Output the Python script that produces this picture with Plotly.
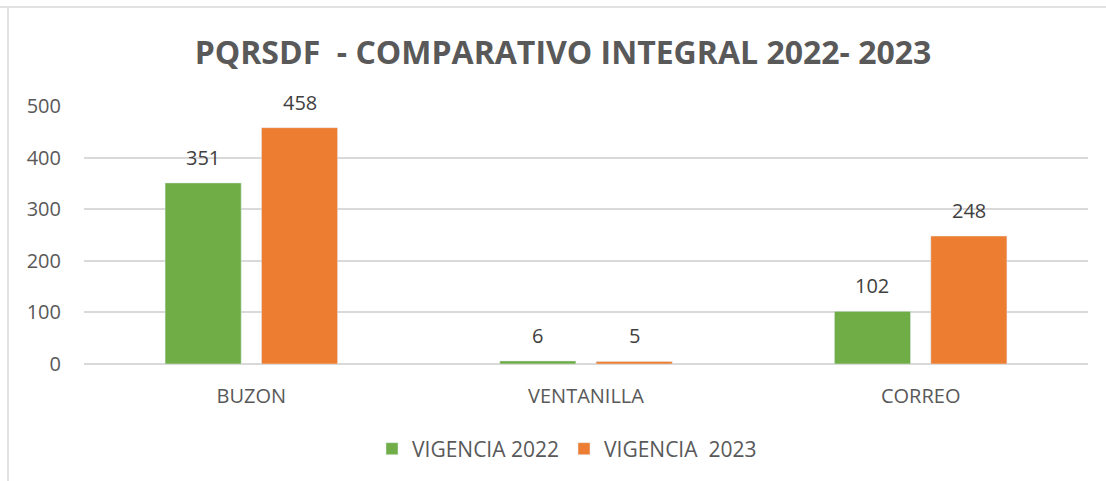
import plotly.graph_objects as go

categories = ["BUZON", "VENTANILLA", "CORREO"]
vigencia_2022 = [351, 6, 102]
vigencia_2023 = [458, 5, 248]
series_names = ["VIGENCIA 2022", "VIGENCIA  2023"]
y_ticks = [0, 100, 200, 300, 400, 500]

GREEN = "#70AD47"
ORANGE = "#ED7D31"
TEXT = "#595959"
FONT = "Open Sans"

W, H = 1106, 481
ml, mr, mt, mb = 84, 18, 106, 117
pw, ph = W - ml - mr, H - mt - mb
BARGAP, BARGROUPGAP = 0.424, 0.21
slot = pw / len(categories) * (1 - BARGAP) / 2
def px(x): return (x - ml) / pw
def py(y): return (H - mb - y) / ph

fig = go.Figure()
annotations = []
series = [(series_names[0], vigencia_2022, GREEN, -slot / 2),
          (series_names[1], vigencia_2023, ORANGE, slot / 2)]
for name, vals, col, shift in series:
    fig.add_trace(go.Bar(x=categories, y=vals, name=name, marker_color=col))
    for c, v in zip(categories, vals):
        annotations.append(dict(x=c, y=v, text=str(v), showarrow=False, xshift=shift,
                                yanchor="bottom", yshift=10,
                                font=dict(size=20, color="#404040", family=FONT)))

fig.update_layout(
    width=W, height=H,
    margin=dict(l=ml, r=mr, t=mt, b=mb),
    paper_bgcolor="white", plot_bgcolor="white",
    barmode="group", bargap=BARGAP, bargroupgap=BARGROUPGAP,
    title=dict(text="<b>PQRSDF  - COMPARATIVO INTEGRAL 2022- 2023</b>",
               x=563 / W, xanchor="center", y=1 - 53 / H, yanchor="middle",
               font=dict(size=32, color=TEXT, family=FONT)),
    font=dict(family=FONT, color=TEXT),
    legend=dict(orientation="h", x=px(567), xanchor="center", y=py(449), yanchor="middle",
                font=dict(size=21, color=TEXT, family=FONT), itemwidth=30,
                traceorder="normal"),
    xaxis=dict(showgrid=False, showline=False, ticks="", ticklabelstandoff=18,
               tickfont=dict(size=20, color=TEXT, family=FONT)),
    yaxis=dict(range=[0, 500], tickvals=y_ticks, showgrid=True, gridcolor="#D9D9D9",
               gridwidth=1.5, zeroline=True, zerolinecolor="#D9D9D9", zerolinewidth=1.5,
               showline=False, ticks="", ticklabelstandoff=22,
               tickfont=dict(size=20, color=TEXT, family=FONT)),
    annotations=annotations,
    shapes=[
        dict(type="line", xref="paper", yref="paper", x0=px(0), x1=px(W), y0=py(7), y1=py(7),
             line=dict(color="#D9D9D9", width=1.5)),
        dict(type="line", xref="paper", yref="paper", x0=px(8), x1=px(8), y0=py(7), y1=py(H),
             line=dict(color="#D9D9D9", width=1.5)),
    ],
)

fig.write_html("out.html", config={"displayModeBar": False},
               post_script="document.body.style.margin='0';")
